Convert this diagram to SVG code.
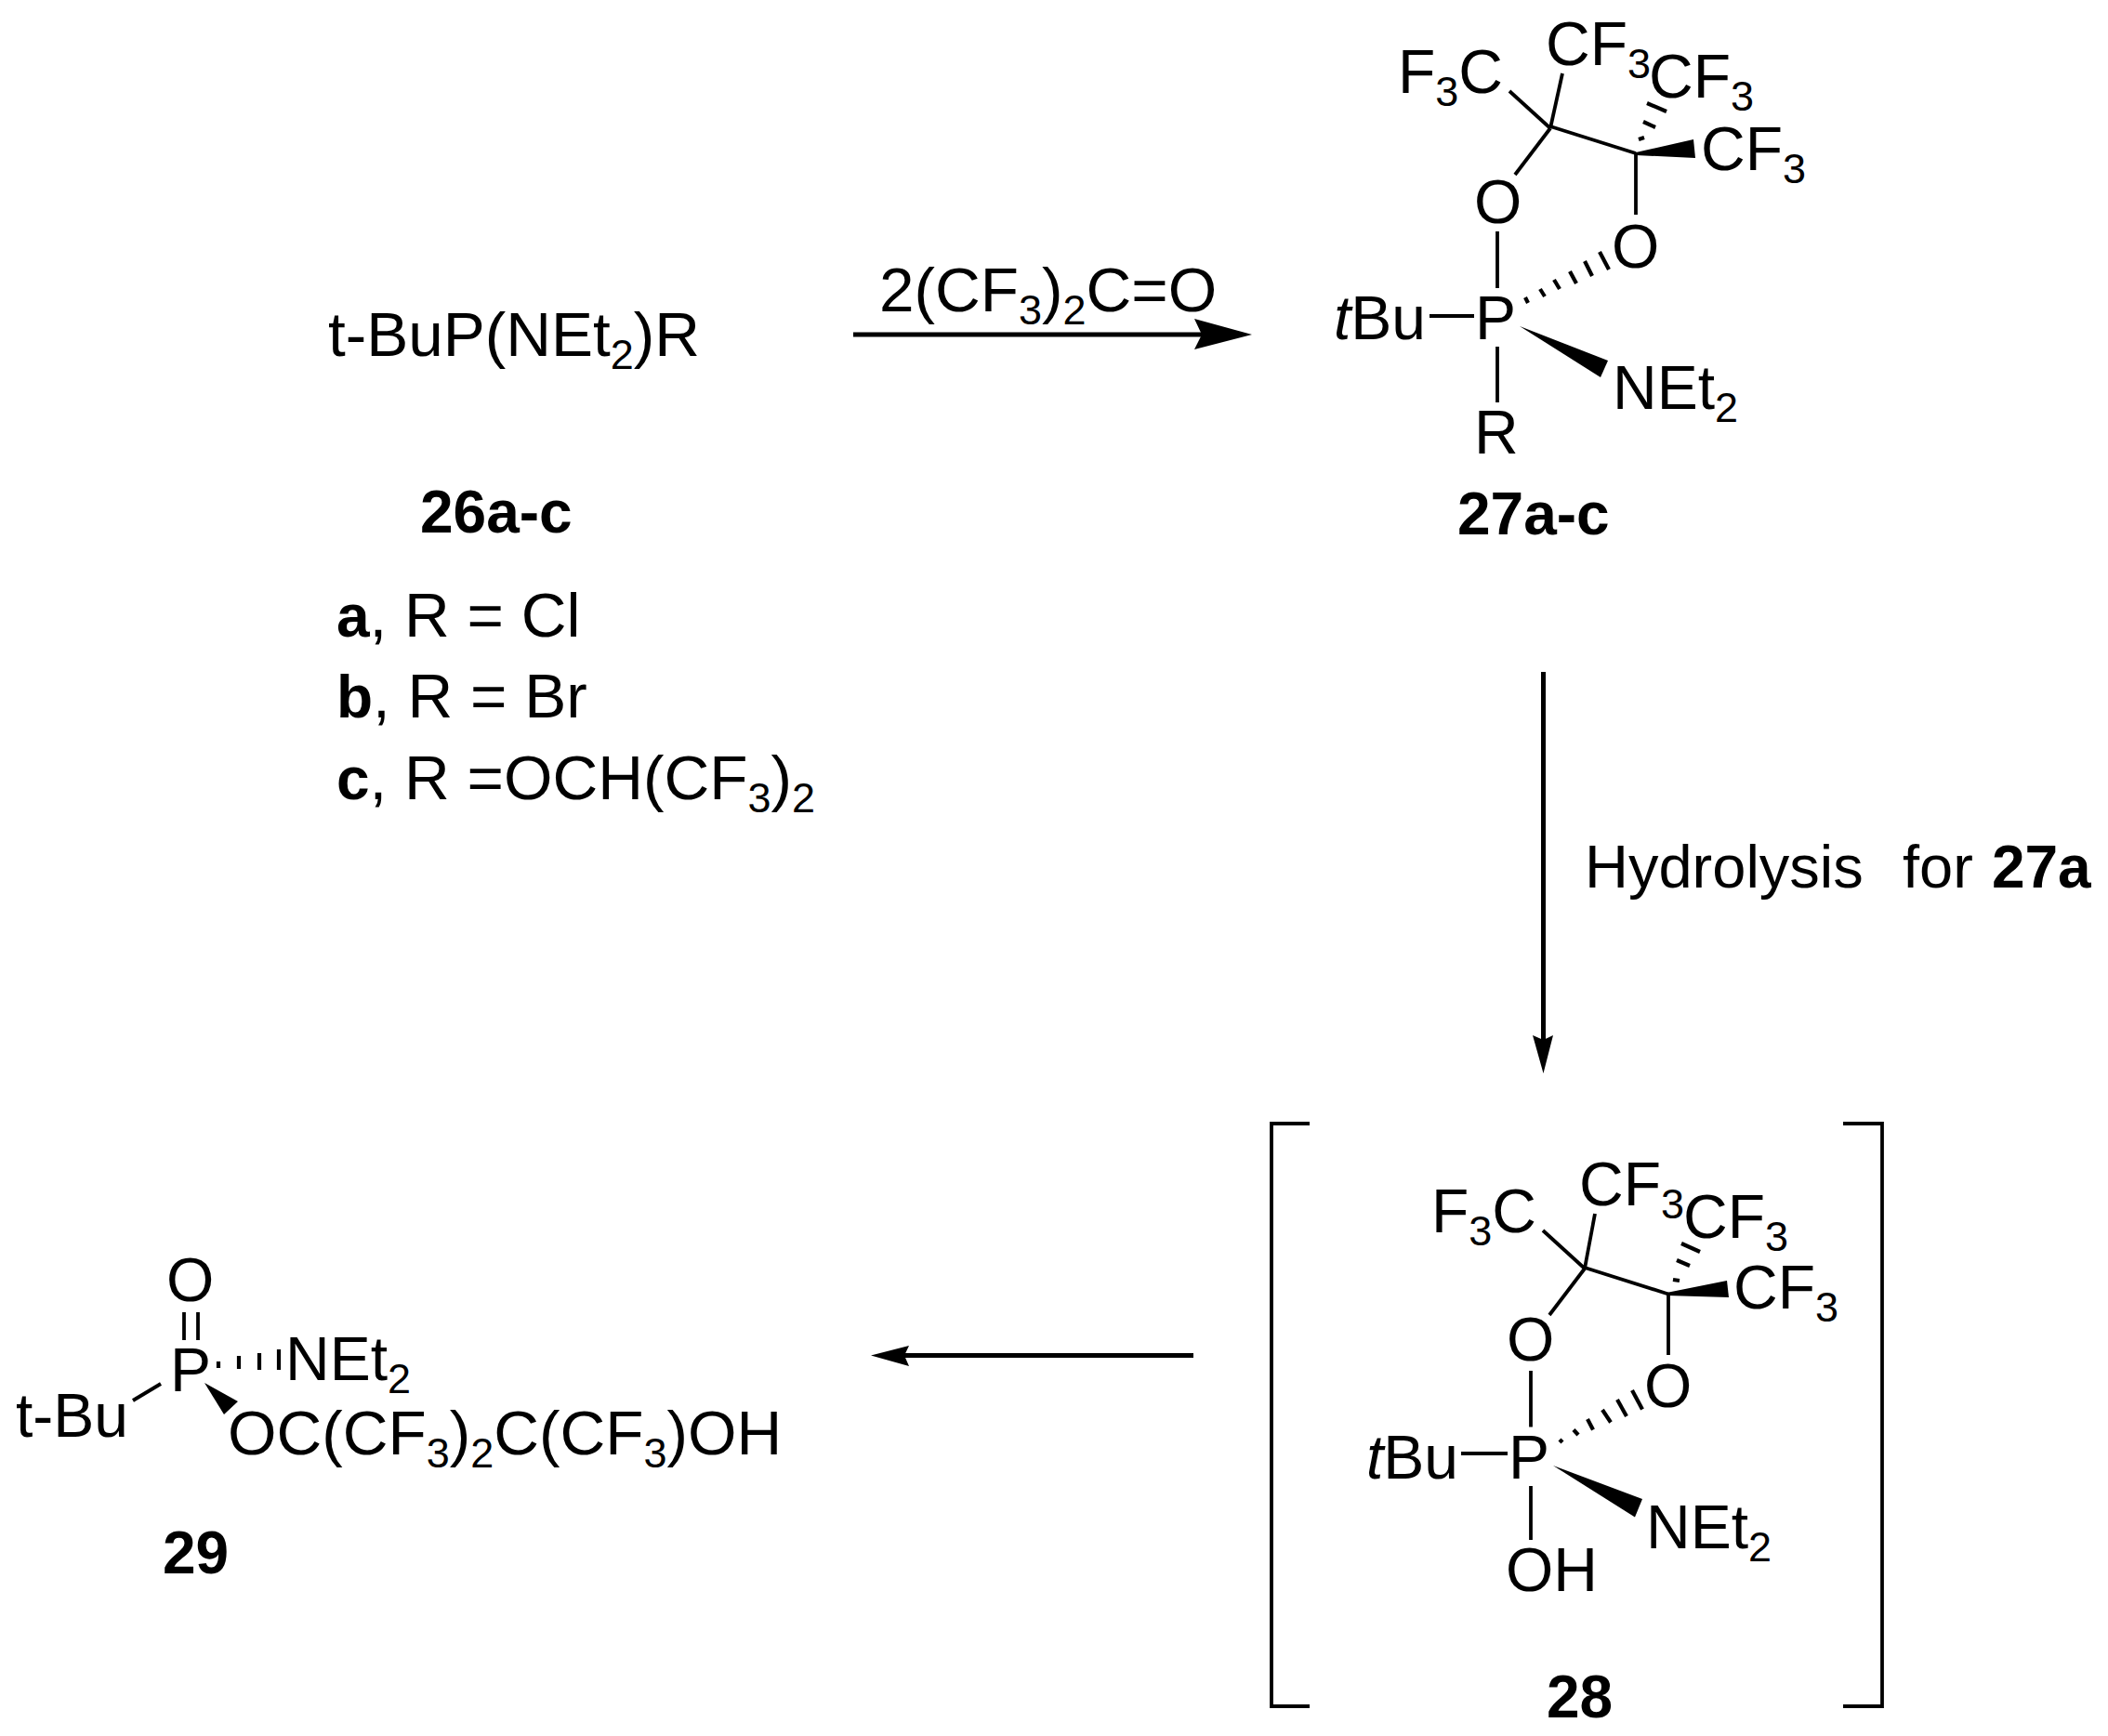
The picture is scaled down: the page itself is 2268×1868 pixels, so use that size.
<svg xmlns="http://www.w3.org/2000/svg" width="2268" height="1868" viewBox="0 0 2268 1868">
<style>
text{font-family:"Liberation Sans",Arial,sans-serif;font-size:66px;fill:#000}
.f{font-size:67.500px}
.h2{font-size:65px}
.b{font-weight:bold;font-size:64px}
.i{font-style:italic}
.s{font-size:45px}
line,path.l{stroke:#000;stroke-width:3.800;fill:none}
.h line{stroke-width:4.200}
#connectors line{stroke-width:5}
polygon{fill:#000;stroke:none}
rect{fill:#fff}
</style>
<rect width="2268" height="1868"/>
<g id="connectors">
<line x1="918" y1="360" x2="1300" y2="360"/><polygon points="1347,360 1285,343 1293,360 1285,376"/>
<line x1="1660.500" y1="723" x2="1660.500" y2="1125"/><polygon points="1660.500,1155 1649,1114 1660.500,1119 1671,1114"/>
<line x1="1284" y1="1458.500" x2="965" y2="1458.500"/><polygon points="937,1458.500 978,1448 973,1458.500 978,1470"/>
</g>
<g id="compound-26">
<text class="f" x="353" y="383">t-BuP(NEt<tspan class="s" dy="14">2</tspan><tspan dy="-14">)R</tspan></text>
<text class="b" x="452" y="573">26a-c</text>
<text class="f" x="362" y="685"><tspan class="b">a</tspan>, R = Cl</text>
<text class="f" x="362" y="772"><tspan class="b">b</tspan>, R = Br</text>
<text class="f" x="362" y="860"><tspan class="b">c</tspan>, R =OCH(CF<tspan class="s" dy="14">3</tspan><tspan dy="-14">)</tspan><tspan class="s" dy="14">2</tspan></text>
</g>
<g id="reagent-1"><text class="f" x="946" y="335">2(CF<tspan class="s" dy="14">3</tspan><tspan dy="-14">)</tspan><tspan class="s" dy="14">2</tspan><tspan dy="-14">C=O</tspan></text></g>
<g id="compound-27">
<line x1="1624" y1="98" x2="1668" y2="138"/>
<line x1="1681" y1="79" x2="1668" y2="138"/>
<line x1="1630" y1="188" x2="1668" y2="138"/>
<line x1="1668" y1="136" x2="1760" y2="165"/>
<line x1="1760" y1="165" x2="1760" y2="231"/>
<line x1="1611" y1="249" x2="1611" y2="310"/>
<line x1="1538" y1="340" x2="1586" y2="340"/>
<line x1="1611" y1="373" x2="1611" y2="433"/>
<polygon points="1635,351 1730,388 1722,406"/>
<polygon points="1760,164 1822,150 1824,170 1760,167"/>
<g class="h">
<line x1="1641" y1="320" x2="1644" y2="326"/><line x1="1657" y1="311" x2="1662" y2="319"/><line x1="1672" y1="301" x2="1678" y2="311"/><line x1="1689" y1="292" x2="1696" y2="305"/><line x1="1705" y1="281" x2="1713" y2="297"/><line x1="1721" y1="271" x2="1731" y2="290"/>
<line x1="1763" y1="150" x2="1769" y2="148"/><line x1="1768" y1="131" x2="1781" y2="137"/><line x1="1772" y1="111" x2="1793" y2="120"/>
</g>
<text x="1663" y="70">CF<tspan class="s" dy="14">3</tspan></text>
<text x="1504" y="100">F<tspan class="s" dy="14">3</tspan><tspan dy="-14">C</tspan></text>
<text x="1774" y="105">CF<tspan class="s" dy="14">3</tspan></text>
<text x="1830" y="183">CF<tspan class="s" dy="14">3</tspan></text>
<text x="1586" y="240">O</text>
<text x="1734" y="288">O</text>
<text x="1435" y="365"><tspan class="i">t</tspan>Bu</text>
<text x="1587" y="365">P</text>
<text x="1735" y="440">NEt<tspan class="s" dy="14">2</tspan></text>
<text x="1586" y="488">R</text>
<text class="b" x="1568" y="575">27a-c</text>
</g>
<g id="compound-28">
<path class="l" d="M1409 1209H1368V1836H1409"/>
<path class="l" d="M1983 1209H2025V1836H1983"/>
<line x1="1660" y1="1324" x2="1705" y2="1365"/>
<line x1="1716" y1="1306" x2="1705" y2="1365"/>
<line x1="1667" y1="1415" x2="1705" y2="1365"/>
<line x1="1705" y1="1364" x2="1795" y2="1392.500"/>
<line x1="1795" y1="1392.500" x2="1795" y2="1458"/>
<line x1="1647" y1="1475" x2="1647" y2="1535.500"/>
<line x1="1572" y1="1564" x2="1622" y2="1564"/>
<line x1="1647" y1="1599" x2="1647" y2="1657"/>
<polygon points="1671,1577 1767,1613 1759,1632.500"/>
<polygon points="1793,1391 1858,1378 1860,1396 1793,1394"/>
<g class="h">
<line x1="1678" y1="1549" x2="1681" y2="1552"/><line x1="1693" y1="1538.500" x2="1698" y2="1544"/><line x1="1708" y1="1527" x2="1714" y2="1538.500"/><line x1="1724" y1="1517" x2="1733" y2="1530.500"/><line x1="1740" y1="1506" x2="1750" y2="1524"/><line x1="1756" y1="1496" x2="1767" y2="1516.500"/>
<line x1="1800" y1="1377" x2="1807" y2="1378"/><line x1="1804" y1="1356" x2="1818" y2="1362"/><line x1="1809" y1="1338" x2="1829" y2="1347"/>
</g>
<text x="1699" y="1296.500">CF<tspan class="s" dy="14">3</tspan></text>
<text x="1540" y="1326">F<tspan class="s" dy="14">3</tspan><tspan dy="-14">C</tspan></text>
<text x="1811" y="1332">CF<tspan class="s" dy="14">3</tspan></text>
<text x="1865" y="1408">CF<tspan class="s" dy="14">3</tspan></text>
<text x="1621" y="1464">O</text>
<text x="1769" y="1514">O</text>
<text x="1470" y="1591"><tspan class="i">t</tspan>Bu</text>
<text x="1623" y="1591">P</text>
<text x="1771" y="1666">NEt<tspan class="s" dy="14">2</tspan></text>
<text x="1620" y="1712">OH</text>
<text class="b" x="1664" y="1848">28</text>
</g>
<g id="compound-29">
<line x1="198" y1="1412" x2="198" y2="1442"/>
<line x1="213" y1="1412" x2="213" y2="1442"/>
<line x1="143" y1="1507" x2="173" y2="1489"/>
<polygon points="220,1488 256,1508 241,1522"/>
<g class="h"><line x1="235" y1="1465" x2="235" y2="1472"/><line x1="257" y1="1459" x2="257" y2="1473"/><line x1="279" y1="1456" x2="279" y2="1474"/><line x1="300" y1="1452" x2="300" y2="1474"/></g>
<text x="179" y="1400">O</text>
<text x="183" y="1497">P</text>
<text x="17" y="1546">t-Bu</text>
<text x="307" y="1485">NEt<tspan class="s" dy="14">2</tspan></text>
<text class="f" x="245" y="1565">OC(CF<tspan class="s" dy="14">3</tspan><tspan dy="-14">)</tspan><tspan class="s" dy="14">2</tspan><tspan dy="-14">C(CF</tspan><tspan class="s" dy="14">3</tspan><tspan dy="-14">)OH</tspan></text>
<text class="b" x="175" y="1693">29</text>
</g>
<g id="reagent-2"><text class="h2" x="1705" y="955">Hydrolysis</text><text class="h2" x="2047" y="955">for <tspan class="b" dx="2">27a</tspan></text></g>
</svg>
